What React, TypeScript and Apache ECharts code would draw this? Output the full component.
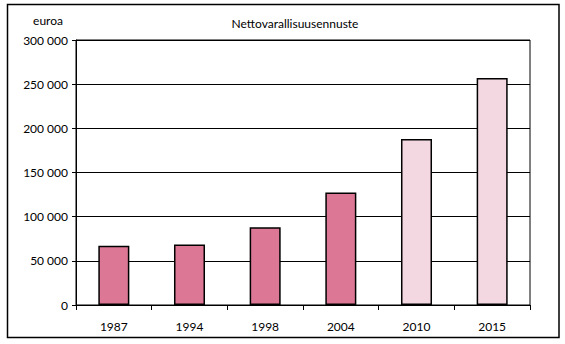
import React, { useEffect, useRef } from "react";
import * as echarts from "echarts";

const years = ["1987", "1994", "1998", "2004", "2010", "2015"];
const values = [67000, 68500, 88000, 127500, 188000, 257000];
const isForecast = [false, false, false, false, true, true];
const yTicks = { min: 0, max: 300000, interval: 50000 };
const titleText = "Nettovarallisuusennuste";
const unitText = "euroa";

const FONT = "Lato, 'Open Sans', sans-serif";

export default function App() {
  const ref = useRef<HTMLDivElement>(null);
  useEffect(() => {
    if (!ref.current) return;
    const chart = echarts.init(ref.current, undefined, { renderer: "svg" });
    chart.setOption({
      animation: false,
      backgroundColor: "#fff",
      textStyle: { fontFamily: FONT },
      title: {
        text: titleText,
        left: 290,
        top: 12,
        textAlign: "center",
        textStyle: { fontSize: 12, fontWeight: "normal", color: "#000", fontFamily: FONT },
      },
      graphic: [
        {
          type: "rect",
          shape: { x: 7.5, y: 4.5, width: 551.5, height: 333 },
          style: { fill: "none", stroke: "#000", lineWidth: 1.5 },
          silent: true,
        },
        {
          type: "text",
          x: 63,
          y: 20,
          style: {
            text: unitText,
            fontSize: 12,
            fill: "#000",
            fontFamily: FONT,
            align: "right",
            verticalAlign: "middle",
          },
        },
      ],
      grid: {
        left: 76,
        right: 35,
        top: 40,
        bottom: 39,
        show: true,
        borderColor: "#000",
        borderWidth: 1,
        backgroundColor: "transparent",
      },
      xAxis: {
        type: "category",
        data: years,
        axisLine: { show: true, lineStyle: { color: "#000", width: 1 } },
        axisTick: { show: true, alignWithLabel: false, length: 5, lineStyle: { color: "#000" } },
        axisLabel: { color: "#000", fontSize: 12, margin: 15, fontFamily: FONT },
        splitLine: { show: false },
      },
      yAxis: {
        type: "value",
        min: yTicks.min,
        max: yTicks.max,
        interval: yTicks.interval,
        axisLine: { show: true, lineStyle: { color: "#000", width: 1 } },
        axisTick: { show: true, length: 4, lineStyle: { color: "#000" } },
        axisLabel: {
          color: "#000",
          fontSize: 12,
          margin: 8,
          fontFamily: FONT,
          formatter: (v: number) => String(v).replace(/\B(?=(\d{3})+(?!\d))/g, " "),
        },
        splitLine: { show: true, lineStyle: { color: "#000", width: 1 } },
      },
      series: [
        {
          type: "bar",
          barWidth: "41%",
          data: values.map((v, i) => ({
            value: v,
            itemStyle: {
              color: isForecast[i] ? "#F3D8E2" : "#DC7896",
              borderColor: "#000",
              borderWidth: 1.5,
            },
          })),
        },
      ],
    });
    return () => chart.dispose();
  }, []);
  return (
    <div
      ref={ref}
      style={{ position: "fixed", left: 0, top: 0, width: 565, height: 344 }}
    />
  );
}
